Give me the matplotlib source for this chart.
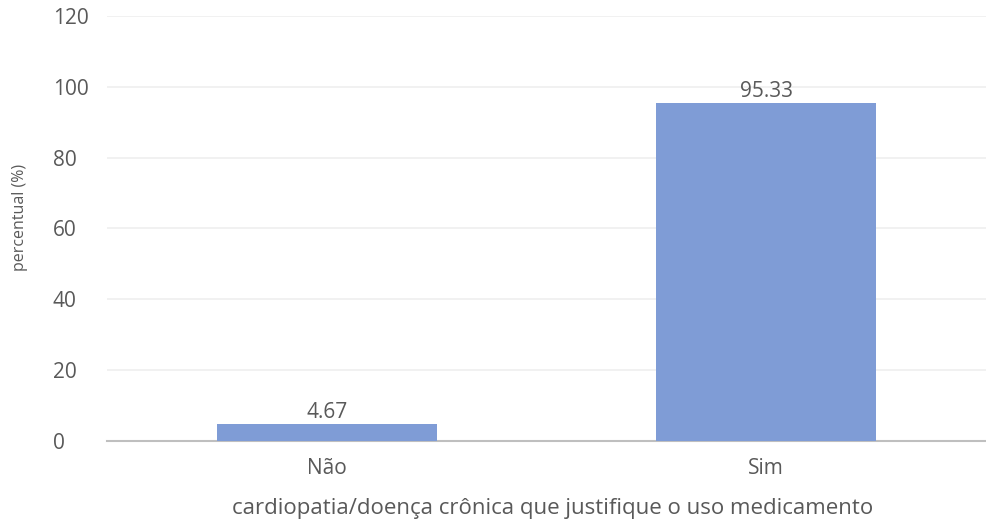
import matplotlib
matplotlib.use('Agg')
import matplotlib.pyplot as plt

categories = ['Não', 'Sim']
values = [4.67, 95.33]
labels = ['4.67', '95.33']

plt.rcParams['font.family'] = ['Open Sans', 'DejaVu Sans']
gray = '#595959'

fig = plt.figure(figsize=(9.86, 5.24), dpi=100)
ax = fig.add_axes([0.1085, 0.1584, 0.8915, 0.8111])

x = range(len(categories))
bars = ax.bar(x, values, width=0.5, color='#7F9CD6', zorder=3)
for b, lab in zip(bars, labels):
    ax.text(b.get_x() + b.get_width() / 2, b.get_height() + 0.3, lab,
            ha='center', va='bottom', fontsize=15, color=gray)

ax.set_xlim(-0.5, 1.5)
ax.set_ylim(0, 120)
ax.set_yticks(range(0, 121, 20))
ax.set_xticks(list(x))
ax.set_xticklabels(categories)
ax.yaxis.grid(True, color='#EFEFEF', linewidth=1.2, zorder=0)
ax.set_axisbelow(True)
for s in ['top', 'right', 'left']:
    ax.spines[s].set_visible(False)
ax.spines['bottom'].set_color('#BFBFBF')
ax.spines['bottom'].set_linewidth(1.5)
ax.tick_params(axis='both', length=0, labelsize=15, colors=gray)
ax.tick_params(axis='y', pad=39)
ax.tick_params(axis='x', pad=12)
for t in ax.get_yticklabels():
    t.set_horizontalalignment('left')

ax.set_ylabel('percentual (%)', fontsize=11.5, color=gray)
ax.yaxis.set_label_coords(-0.09, 0.526)
ax.set_xlabel('cardiopatia/doença crônica que justifique o uso medicamento',
              fontsize=16, color=gray)
ax.xaxis.set_label_coords(0.507, -0.135)

fig.savefig('out.png', dpi=100)
